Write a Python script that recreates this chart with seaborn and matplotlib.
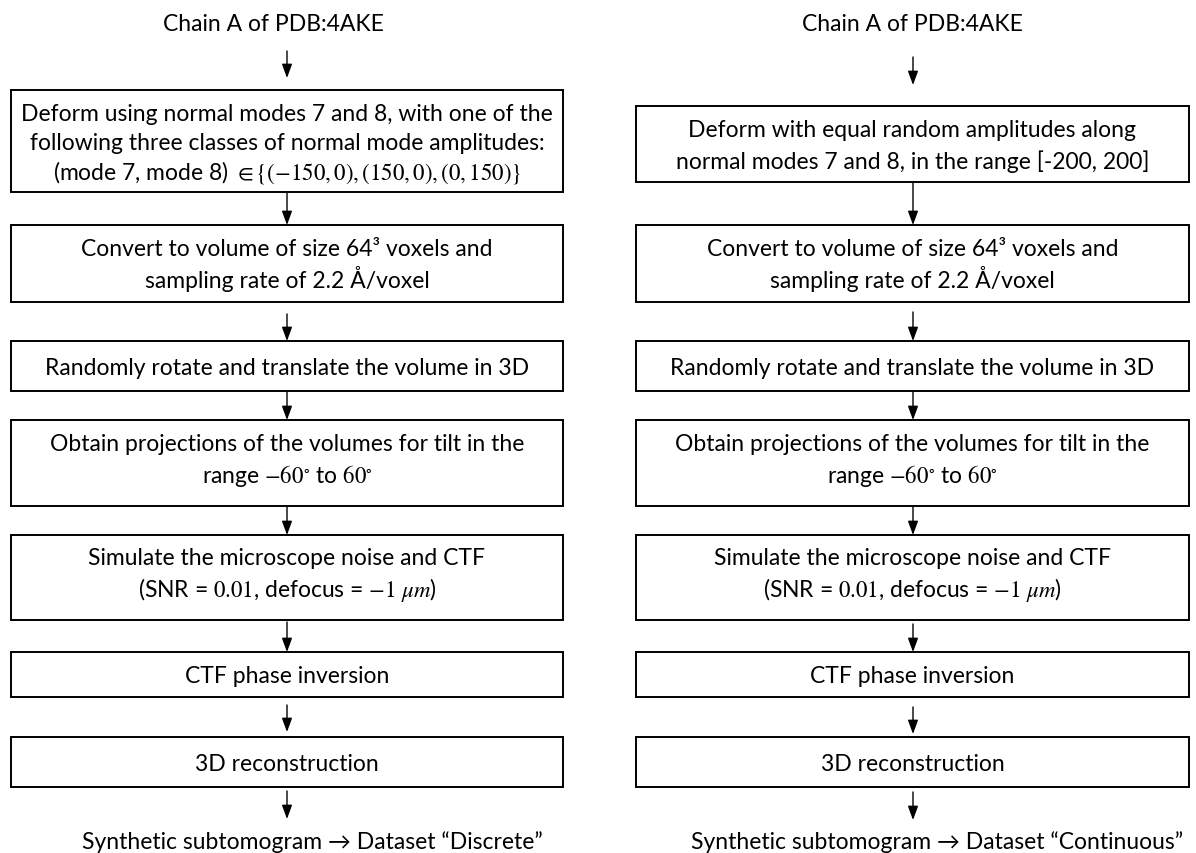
import matplotlib.pyplot as plt
import matplotlib.patches as patches
import seaborn as sns

sns.set_theme(style='white')
plt.rcParams['font.family'] = ['Lato', 'DejaVu Sans']
plt.rcParams['mathtext.fontset'] = 'stix'

# Texts of the two pipelines
titles = ['Chain A of PDB:4AKE', 'Chain A of PDB:4AKE']
footers = ['Synthetic subtomogram \u2192 Dataset \u201cDiscrete\u201d',
           'Synthetic subtomogram \u2192 Dataset \u201cContinuous\u201d']

left_steps = [
    ['Deform using normal modes 7 and 8, with one of the',
     'following three classes of normal mode amplitudes:',
     r'(mode 7, mode 8) $\in \{(-150, 0), (150, 0), (0, 150)\}$'],
    ['Convert to volume of size 64\u00b3 voxels and',
     'sampling rate of 2.2 \u00c5/voxel'],
    ['Randomly rotate and translate the volume in 3D'],
    ['Obtain projections of the volumes for tilt in the',
     r'range $-60^{\circ}$ to $60^{\circ}$'],
    ['Simulate the microscope noise and CTF',
     r'(SNR = $0.01$, defocus = $-1\ \mu m$)'],
    ['CTF phase inversion'],
    ['3D reconstruction'],
]
right_steps = [
    ['Deform with equal random amplitudes along',
     'normal modes 7 and 8, in the range [-200, 200]'],
    ['Convert to volume of size 64\u00b3 voxels and',
     'sampling rate of 2.2 \u00c5/voxel'],
    ['Randomly rotate and translate the volume in 3D'],
    ['Obtain projections of the volumes for tilt in the',
     r'range $-60^{\circ}$ to $60^{\circ}$'],
    ['Simulate the microscope noise and CTF',
     r'(SNR = $0.01$, defocus = $-1\ \mu m$)'],
    ['CTF phase inversion'],
    ['3D reconstruction'],
]

# Layout (pixels)
col_x = [(11, 563), (636, 1189)]
title_x = [273, 912]
footer_x = [312, 937]
arrow_x = [287, 913]
box_rows = [
    [(91, 193), (226, 303), (342, 392), (421, 507), (536, 621), (653, 698), (738, 788)],
    [(107, 183), (226, 303), (342, 392), (421, 507), (536, 621), (653, 698), (738, 788)],
]
text_shift = [[0, 0, 0, -5, -5, 0, 0], [0, 0, 0, -5, -5, 0, 0]]
arrows = [
    [(52, 79), (193, 226), (315, 342), (392, 421), (507, 536), (623, 653), (706, 733), (792, 820)],
    [(58, 86), (183, 226), (313, 342), (392, 421), (507, 536), (625, 653), (708, 735), (793, 821)],
]

FS = 16.5
fig = plt.figure(figsize=(11.96, 8.54), dpi=100)
ax = fig.add_axes([0, 0, 1, 1])
ax.set_xlim(0, 1196)
ax.set_ylim(854, 0)
ax.axis('off')

for c, steps in enumerate([left_steps, right_steps]):
    x0, x1 = col_x[c]
    xc = (x0 + x1) / 2
    ax.text(title_x[c], 31, titles[c], ha='center', va='baseline', fontsize=FS, color='black')
    ax.text(footer_x[c], 849, footers[c], ha='center', va='baseline', fontsize=FS, color='black')
    for i, lines in enumerate(steps):
        top, bot = box_rows[c][i]
        ax.add_patch(patches.Rectangle((x0, top), x1 - x0, bot - top, fill=False,
                                       lw=1.4, ec='black'))
        spacing = 29 if len(lines) == 3 else 32
        mid = (top + bot) / 2 + text_shift[c][i]
        for k, line in enumerate(lines):
            yc = mid + (k - (len(lines) - 1) / 2) * spacing
            ax.text(xc, yc + 8, line, ha='center', va='baseline', fontsize=FS, color='black')
    for y0, y1 in arrows[c]:
        ax.annotate('', xy=(arrow_x[c], y1), xytext=(arrow_x[c], y0),
                    arrowprops=dict(arrowstyle='-|>,head_length=0.6,head_width=0.22',
                                    lw=1.0, color='black', mutation_scale=14,
                                    shrinkA=0, shrinkB=0))

fig.savefig('out.png', dpi=100, facecolor='white')
